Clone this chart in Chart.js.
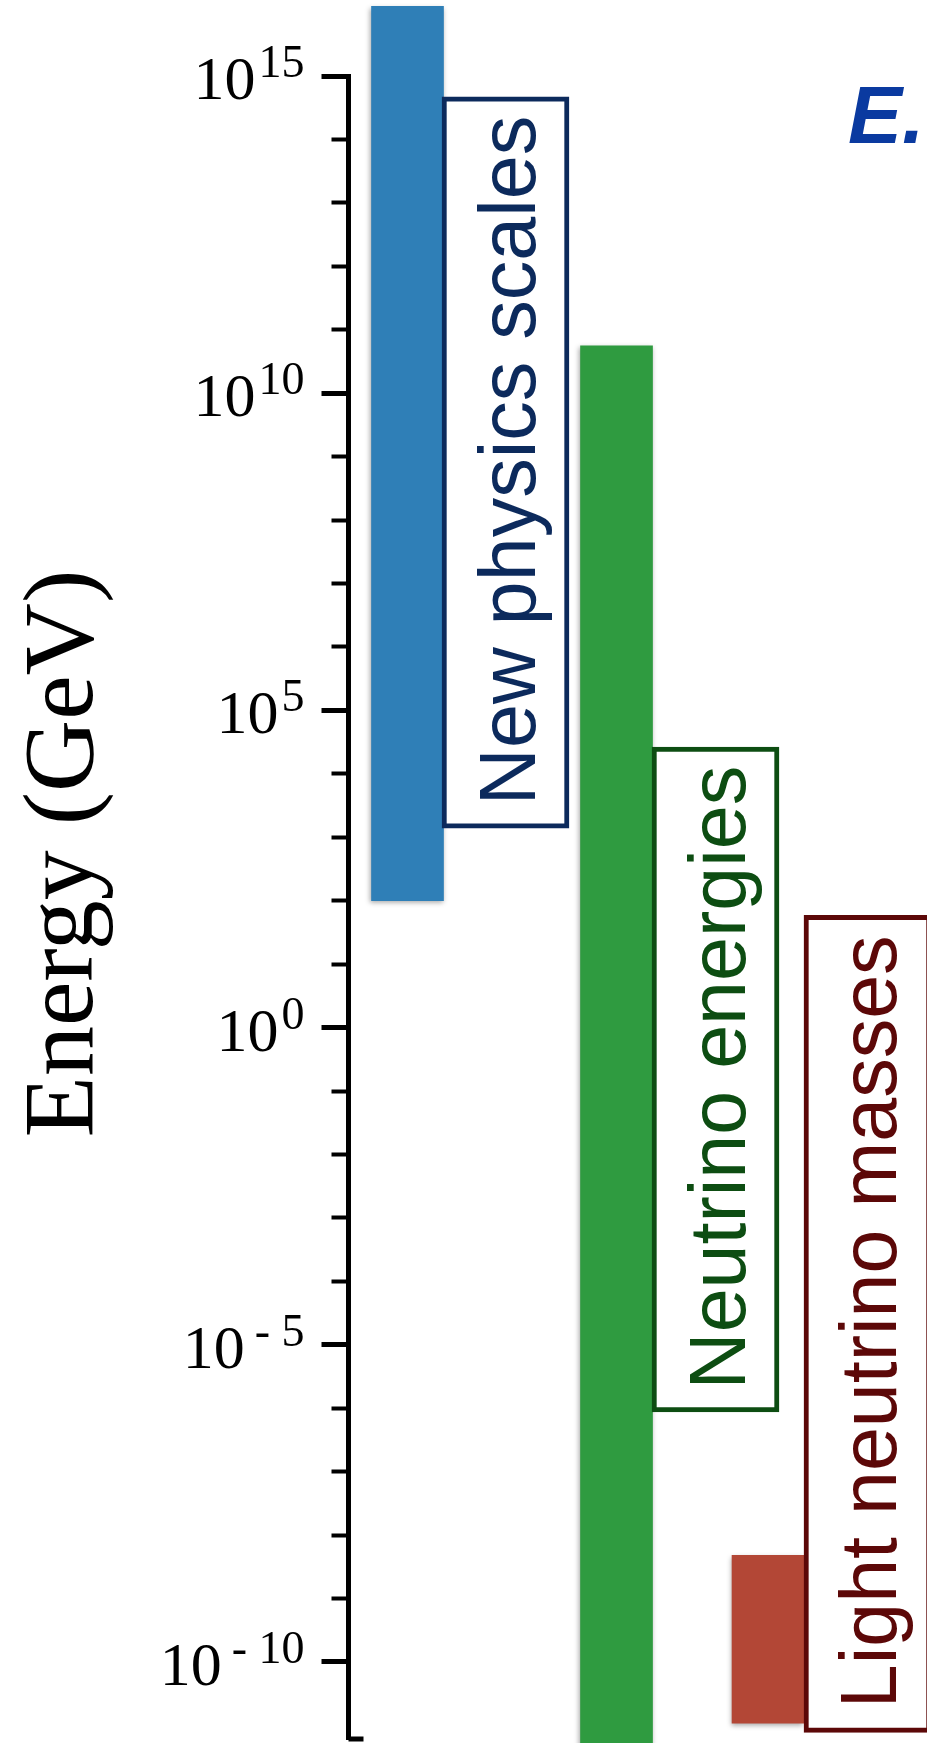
<!DOCTYPE html>
<html>
<head>
<meta charset="utf-8">
<title>Energy scales</title>
<script src="https://cdn.jsdelivr.net/npm/chart.js@4/dist/chart.umd.min.js"></script>
<style>
  html, body { margin: 0; padding: 0; background: #fff; }
  #wrap { width: 927px; height: 1743px; position: relative; }
</style>
</head>
<body>
<div id="wrap"><canvas id="energy-chart"></canvas></div>
<script>
// Energy ranges in GeV
const categories = ['New physics scales', 'Neutrino energies', 'Light neutrino masses'];
const rangeLow = [1e2, 1e-12, 1.08e-11];
const rangeHigh = [1.25e16, 5.6e10, 4.8e-9];

// Axis: one tick per decade, labels every five decades
const decades = [15, 14, 13, 12, 11, 10, 9, 8, 7, 6, 5, 4, 3, 2, 1, 0,
  -1, -2, -3, -4, -5, -6, -7, -8, -9, -10];
const labelledDecades = [15, 10, 5, 0, -5, -10];
const yMin = 6.1e-12;
const yMax = 1e15;

// Styling
const barColors = ['#2f7fb7', '#2f9b40', '#b34736'];
const labelColors = ['#0c2a5c', '#0d4d12', '#5c0808'];

// Layout of the columns on the hidden x axis (0-100 across the plot)
const barCentre = [10.2, 46.33, 72.52];
const boxCentre = [27.14, 63.44, 89.71];
// Label boxes, bottom and top given as powers of ten
const boxSpan = [[3.145, 14.67], [-6.06, 4.42], [-11.11, 1.77]];

function isMajor(tick) {
  if (!tick) return false;
  return Math.round(Math.log10(tick.value)) % 5 === 0;
}

// Drop shadow under the coloured bars
const shadowPlugin = {
  id: 'barShadow',
  beforeDatasetDraw(chart, args) {
    const ctx = chart.ctx;
    ctx.save();
    if (args.index === 1) {
      ctx.shadowColor = 'rgba(0,0,0,0.35)';
      ctx.shadowBlur = 5;
      ctx.shadowOffsetX = -1;
      ctx.shadowOffsetY = 2;
    }
  },
  afterDatasetDraw(chart) {
    chart.ctx.restore();
  }
};

// Texts: box labels, tick labels with exponents, axis title, heading
const textPlugin = {
  id: 'texts',
  afterDraw(chart) {
    const ctx = chart.ctx;
    const yScale = chart.scales.y;
    const area = chart.chartArea;

    // rotated labels inside the boxes
    const boxes = chart.getDatasetMeta(0);
    boxes.data.forEach((el, i) => {
      const cy = (el.y + el.base) / 2;
      ctx.save();
      ctx.translate(el.x + 29, cy - 2);
      ctx.rotate(-Math.PI / 2);
      ctx.font = '79px "Liberation Sans", Arial, sans-serif';
      ctx.fillStyle = labelColors[i];
      ctx.textAlign = 'center';
      ctx.textBaseline = 'alphabetic';
      ctx.fillText(categories[i], 0, 0);
      ctx.restore();
    });

    // 10^n tick labels
    ctx.save();
    ctx.fillStyle = '#000';
    ctx.textAlign = 'right';
    ctx.textBaseline = 'alphabetic';
    const right = area.left - 44;
    labelledDecades.forEach(e => {
      const py = yScale.getPixelForValue(Math.pow(10, e));
      const sup = e < 0 ? '- ' + (-e) : String(e);
      ctx.font = '46px "Liberation Serif", "Times New Roman", serif';
      ctx.fillText(sup, right, py + 1);
      const w = ctx.measureText(sup).width;
      ctx.font = '62px "Liberation Serif", "Times New Roman", serif';
      ctx.fillText('10', right - w - (e < 0 ? 10 : 3), py + 23);
    });
    ctx.restore();

    // short start of the x axis at the bottom corner
    ctx.save();
    ctx.strokeStyle = '#000';
    ctx.lineWidth = 5;
    ctx.beginPath();
    ctx.moveTo(area.left, area.bottom);
    ctx.lineTo(area.left + 15, area.bottom);
    ctx.stroke();
    ctx.restore();

    // axis title
    ctx.save();
    ctx.translate(92, (area.top + area.bottom) / 2 - 54);
    ctx.rotate(-Math.PI / 2);
    ctx.font = '100px "Liberation Serif", "Times New Roman", serif';
    ctx.fillStyle = '#000';
    ctx.textAlign = 'center';
    ctx.textBaseline = 'alphabetic';
    ctx.fillText('Energy (GeV)', 0, 0);
    ctx.restore();

    // heading, cut off at the right edge
    ctx.save();
    ctx.font = 'italic bold 81px "Liberation Sans", Arial, sans-serif';
    ctx.fillStyle = '#0a3aa0';
    ctx.textAlign = 'left';
    ctx.textBaseline = 'alphabetic';
    ctx.fillText('E.', 848, 143);
    ctx.restore();
  }
};

const ctx = document.getElementById('energy-chart');

new Chart(ctx, {
  type: 'bar',
  data: {
    datasets: [{
      label: 'Labels',
      order: 0,
      data: categories.map((c, i) => ({
        x: boxCentre[i],
        y: [Math.pow(10, boxSpan[i][0]), Math.pow(10, boxSpan[i][1])]
      })),
      backgroundColor: '#ffffff',
      borderColor: labelColors,
      borderWidth: 5,
      borderSkipped: false,
      barThickness: 127,
      grouped: false,
      clip: false
    }, {
      label: 'Energy range',
      order: 1,
      data: categories.map((c, i) => ({
        x: barCentre[i],
        y: [rangeLow[i], rangeHigh[i]]
      })),
      backgroundColor: barColors,
      borderWidth: 0,
      barThickness: 72,
      grouped: false,
      clip: false
    }]
  },
  options: {
    responsive: true,
    maintainAspectRatio: false,
    animation: false,
    events: [],
    layout: {
      padding: { left: 321.5, right: 0, top: 76, bottom: 4 }
    },
    plugins: {
      legend: { display: false },
      tooltip: { enabled: false },
      title: { display: false }
    },
    scales: {
      x: {
        type: 'linear',
        min: 0,
        max: 100,
        offset: false,
        display: false
      },
      y: {
        type: 'logarithmic',
        min: yMin,
        max: yMax,
        afterBuildTicks: (scale) => {
          scale.ticks = decades.map(e => ({ value: Math.pow(10, e) }));
        },
        ticks: { display: false },
        grid: {
          drawOnChartArea: false,
          drawTicks: true,
          tickLength: 27,
          tickColor: '#000',
          tickWidth: (c) => isMajor(c.tick) ? 5 : 4,
          tickBorderDash: (c) => isMajor(c.tick) ? [] : [0, 10, 40, 0]
        },
        border: { display: true, color: '#000', width: 5 }
      }
    }
  },
  plugins: [shadowPlugin, textPlugin]
});
</script>
</body>
</html>
